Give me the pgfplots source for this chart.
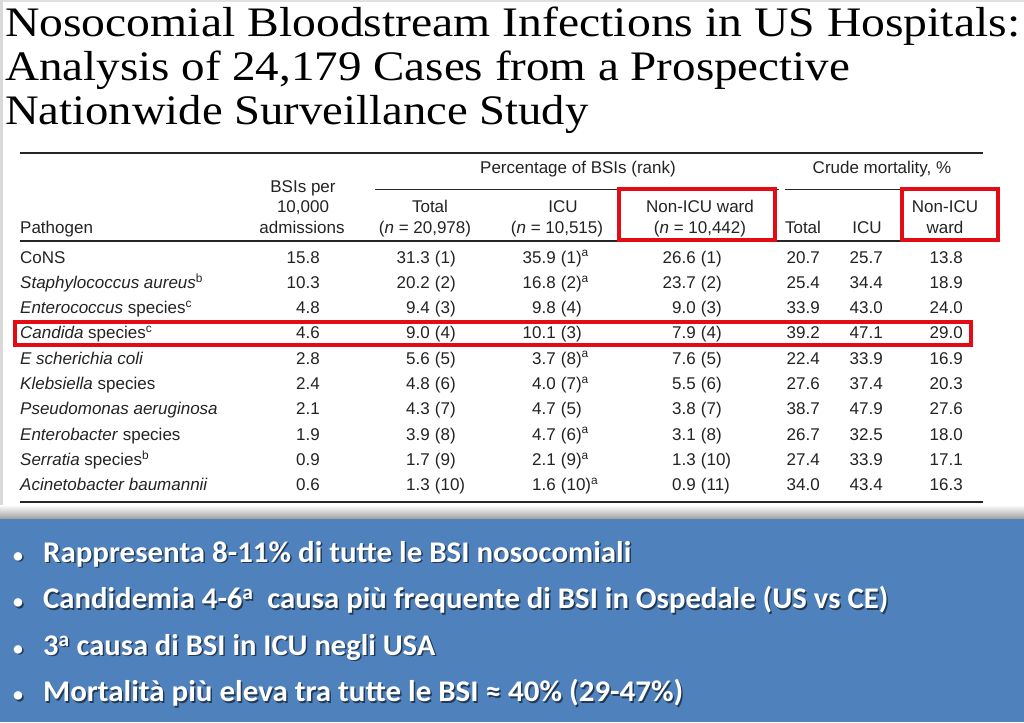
\documentclass[border=0pt]{standalone}
\usepackage{pgfplots}
\pgfplotsset{compat=1.18}
\usepackage{pgfplotstable}
\usepackage{graphicx}
\usepackage{fontspec}
\setmainfont{Liberation Sans}
\newfontfamily\titlefam{Liberation Serif}
\newfontfamily\bulfam{Carlito}
\definecolor{tabtext}{RGB}{35,35,35}
\definecolor{redbox}{RGB}{228,12,20}
\definecolor{slideblue}{RGB}{79,129,189}
\newcommand\tabfont{\fontsize{17bp}{20bp}\selectfont}
\newcommand\titlef{\titlefam\fontsize{42bp}{46bp}\selectfont}
\newcommand\bulf{\bulfam\bfseries\fontsize{30bp}{32bp}\selectfont}
\newcommand\dotf{\bulfam\bfseries\fontsize{20bp}{22bp}\selectfont}

% row; BSIs per 10,000; % of BSIs total (rank); ICU (rank); non-ICU (rank); crude mortality total, ICU, non-ICU
\pgfplotstableread[col sep=semicolon]{
row;bsi;tot;totr;icu;icur;non;nonr;mt;mi;mn
1;15.8;31.3;(1);35.9;(1)\textsuperscript{a};26.6;(1);20.7;25.7;13.8
2;10.3;20.2;(2);16.8;(2)\textsuperscript{a};23.7;(2);25.4;34.4;18.9
3;4.8;9.4;(3);9.8;(4);9.0;(3);33.9;43.0;24.0
4;4.6;9.0;(4);10.1;(3);7.9;(4);39.2;47.1;29.0
5;2.8;5.6;(5);3.7;(8)\textsuperscript{a};7.6;(5);22.4;33.9;16.9
6;2.4;4.8;(6);4.0;(7)\textsuperscript{a};5.5;(6);27.6;37.4;20.3
7;2.1;4.3;(7);4.7;(5);3.8;(7);38.7;47.9;27.6
8;1.9;3.9;(8);4.7;(6)\textsuperscript{a};3.1;(8);26.7;32.5;18.0
9;0.9;1.7;(9);2.1;(9)\textsuperscript{a};1.3;(10);27.4;33.9;17.1
10;0.6;1.3;(10);1.6;(10)\textsuperscript{a};0.9;(11);34.0;43.4;16.3
}\bsidata

\pgfplotsset{
  tabval/.style={only marks, mark=*, mark size=0pt, mark options={draw=none,fill=none},
    nodes near coords, point meta=explicit symbolic,
    every node near coord/.append style={anchor=base #1, inner sep=0pt, font=\tabfont, text=tabtext}},
}

\newcommand\bline[4]{%
  \node[anchor=base west, inner sep=0pt, text=black, opacity=0.55] at (axis cs:44.5,#2) {\resizebox{#3bp}{\height}{\bulf #4}};
  \node[anchor=base west, inner sep=0pt, text=white] at (axis cs:43,#1) {\resizebox{#3bp}{\height}{\bulf #4}};
  \node[anchor=base, inner sep=0pt, text=black, opacity=0.55] at (axis cs:19.5,#2) {\dotf\textbullet};
  \node[anchor=base, inner sep=0pt, text=white] at (axis cs:18,#1) {\dotf\textbullet};
}

\begin{document}
\begin{tikzpicture}
\begin{axis}[width=1024bp, height=722bp, scale only axis,
  xmin=0, xmax=1024, ymin=0, ymax=722, y dir=reverse,
  hide axis, clip=false]
% background
\fill[white] (axis cs:0,0) rectangle (axis cs:1024,722);
\fill[black!12] (axis cs:0,0) rectangle (axis cs:1024,2.5);
\fill[black!15] (axis cs:0,0) rectangle (axis cs:3,519);
\shade[top color=white, bottom color=black!38] (axis cs:0,505) rectangle (axis cs:1024,519);
\fill[slideblue] (axis cs:0,519) rectangle (axis cs:1024,722);

% title
\node[anchor=base west, inner sep=0pt] at (axis cs:5,37) {\resizebox{1015bp}{\height}{\titlef Nosocomial Bloodstream Infections in US Hospitals:}};
\node[anchor=base west, inner sep=0pt] at (axis cs:5,81) {\resizebox{845bp}{\height}{\titlef Analysis of 24,179 Cases from a Prospective}};
\node[anchor=base west, inner sep=0pt] at (axis cs:5,125) {\resizebox{583bp}{\height}{\titlef Nationwide Surveillance Study}};

% rules
\draw[black!85, line width=1.5bp] (axis cs:20,153) -- (axis cs:983,153);
\draw[black!85, line width=1bp] (axis cs:375,189) -- (axis cs:779,189);
\draw[black!85, line width=1bp] (axis cs:785,189) -- (axis cs:983,189);
\draw[black!85, line width=1.5bp] (axis cs:20,241) -- (axis cs:983,241);
\draw[black!85, line width=1.5bp] (axis cs:20,502) -- (axis cs:983,502);

% header
\begin{scope}[every node/.style={anchor=base, inner sep=0pt, font=\tabfont, text=tabtext}]
\node at (axis cs:303,192) {BSIs per};
\node at (axis cs:303,212) {10,000};
\node at (axis cs:302,233) {admissions};
\node[anchor=base west] at (axis cs:20,233) {Pathogen};
\node at (axis cs:578,173) {Percentage of BSIs (rank)};
\node at (axis cs:882,173) {Crude mortality, \%};
\node at (axis cs:430,212) {Total};
\node at (axis cs:425,233) {(\textit{n} = 20,978)};
\node at (axis cs:563,212) {ICU};
\node at (axis cs:557,233) {(\textit{n} = 10,515)};
\node at (axis cs:700,212) {Non-ICU ward};
\node at (axis cs:700,233) {(\textit{n} = 10,442)};
\node at (axis cs:803,233) {Total};
\node at (axis cs:867,233) {ICU};
\node at (axis cs:945,212) {Non-ICU};
\node at (axis cs:945,233) {ward};
% pathogen names
\node[anchor=base west] at (axis cs:20,263) {CoNS};
\node[anchor=base west] at (axis cs:20,288.3) {\textit{Staphylococcus aureus}\textsuperscript{b}};
\node[anchor=base west] at (axis cs:20,313.6) {\textit{Enterococcus} species\textsuperscript{c}};
\node[anchor=base west] at (axis cs:20,338.9) {\textit{Candida} species\textsuperscript{c}};
\node[anchor=base west] at (axis cs:20,364.2) {\textit{E scherichia coli}};
\node[anchor=base west] at (axis cs:20,389.5) {\textit{Klebsiella} species};
\node[anchor=base west] at (axis cs:20,414.8) {\textit{Pseudomonas aeruginosa}};
\node[anchor=base west] at (axis cs:20,440.1) {\textit{Enterobacter} species};
\node[anchor=base west] at (axis cs:20,465.4) {\textit{Serratia} species\textsuperscript{b}};
\node[anchor=base west] at (axis cs:20,490.7) {\textit{Acinetobacter baumannii}};
\end{scope}

% values
\addplot[tabval=east] table[x expr=320, y expr=237.7+25.3*\thisrow{row}, meta=bsi]{\bsidata};
\addplot[tabval=east] table[x expr=430, y expr=237.7+25.3*\thisrow{row}, meta=tot]{\bsidata};
\addplot[tabval=west] table[x expr=434.7, y expr=237.7+25.3*\thisrow{row}, meta=totr]{\bsidata};
\addplot[tabval=east] table[x expr=556, y expr=237.7+25.3*\thisrow{row}, meta=icu]{\bsidata};
\addplot[tabval=west] table[x expr=560.7, y expr=237.7+25.3*\thisrow{row}, meta=icur]{\bsidata};
\addplot[tabval=east] table[x expr=696, y expr=237.7+25.3*\thisrow{row}, meta=non]{\bsidata};
\addplot[tabval=west] table[x expr=700.7, y expr=237.7+25.3*\thisrow{row}, meta=nonr]{\bsidata};
\addplot[tabval=east] table[x expr=820, y expr=237.7+25.3*\thisrow{row}, meta=mt]{\bsidata};
\addplot[tabval=east] table[x expr=883, y expr=237.7+25.3*\thisrow{row}, meta=mi]{\bsidata};
\addplot[tabval=east] table[x expr=963, y expr=237.7+25.3*\thisrow{row}, meta=mn]{\bsidata};

% red highlight boxes
\draw[redbox, line width=4bp] (axis cs:619,189) rectangle (axis cs:775,240);
\draw[redbox, line width=4bp] (axis cs:902,189) rectangle (axis cs:998,240);
\draw[redbox, line width=4bp] (axis cs:15,322) rectangle (axis cs:971,345);

% bullets
\bline{562}{563.5}{588}{Rappresenta 8-11\% di tutte le BSI nosocomiali}
\bline{608.5}{610}{845}{Candidemia 4-6\textsuperscript{a}\ \ causa più frequente di BSI in Ospedale (US vs CE)}
\bline{655}{656.5}{392}{3\textsuperscript{a} causa di BSI in ICU negli USA}
\bline{701.5}{703}{640}{Mortalità più eleva tra tutte le BSI ≈ 40\% (29-47\%)}
\end{axis}
\end{tikzpicture}
\end{document}
